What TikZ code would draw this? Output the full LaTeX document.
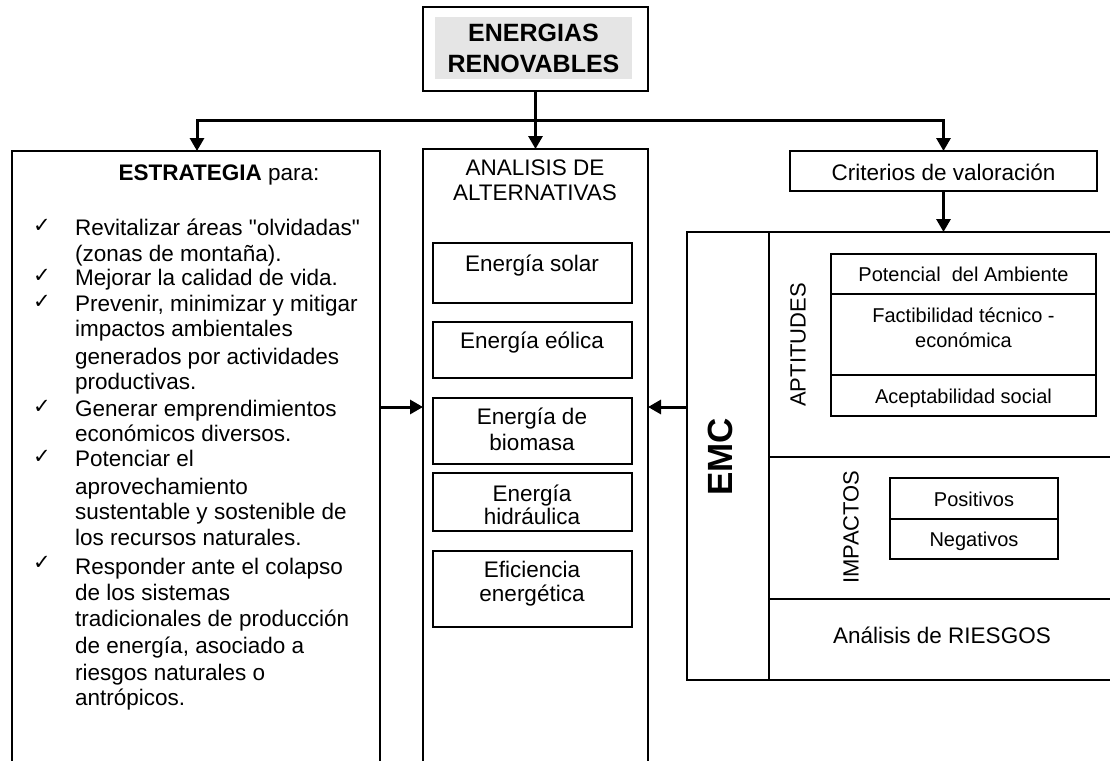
\documentclass[tikz,border=0pt]{standalone}
\usepackage{fontspec}
\setmainfont{Liberation Sans}[Ligatures=TeXOff]
\newfontfamily\dejavu{DejaVu Sans}
\usetikzlibrary{arrows.meta}
\begin{document}
\begin{tikzpicture}[x=1pt,y=-1pt,
  box/.style={draw, line width=1.3pt, inner sep=0pt, outer sep=0pt},
  conn/.style={line width=3pt, -{Triangle[length=13pt,width=14pt]}},
  txt/.style={inner sep=0pt, anchor=mid, yshift=-6pt, font=\fontsize{22.5}{26}\selectfont},
  sm/.style={inner sep=0pt, anchor=mid, yshift=-5pt, font=\fontsize{20}{25}\selectfont},
  itemline/.style={inner sep=0pt, anchor=mid west, yshift=-6pt, font=\fontsize{22.5}{26}\selectfont},
  chk/.style={inner sep=0pt, anchor=mid, yshift=-5pt, font=\dejavu\fontsize{21}{24}\selectfont},
  vlabel/.style={inner sep=0pt, anchor=mid, rotate=90, font=\fontsize{22}{26}\selectfont},
]
\useasboundingbox (0,0) rectangle (1110,760);
\clip (0,0) rectangle (1110,760);

% top box
\node[box, minimum width=225, minimum height=84] (top) at (535.5,49) {};
\node[fill=black!10, inner sep=0pt, minimum width=197, minimum height=62] (topbg) at (533.5,48) {};
\node[inner sep=0pt, align=center, font=\bfseries\fontsize{25}{31}\selectfont] (toptxt) at (533.5,48) {ENERGIAS\\RENOVABLES};

% main columns
\node[box, minimum width=368, minimum height=658] (estr) at (196,480) {};
\node[box, minimum width=225, minimum height=660] (alt) at (535.5,479) {};
\node[box, minimum width=307, minimum height=40] (crit) at (943.5,171) {};
\node[box, minimum width=443, minimum height=448] (emc) at (908.5,456) {};

% connectors
\coordinate (jt) at (535.5,120);
\coordinate (jl) at (197,120);
\coordinate (ay) at (0,407);
\draw[line width=3pt] (top.south) -- (jt);
\draw[conn] (jt) -| (jl |- estr.north);
\draw[conn] (jt) -| (crit.north);
\draw[conn] (jt) -- (alt.north);
\draw[conn] (crit.south) -- (crit.south |- emc.north);
\draw[conn] (estr.east |- ay) -- (alt.west |- ay);
\draw[conn] (emc.west |- ay) -- (alt.east |- ay);

% left column text
\node[txt] (esttl) at (219,172) {\textbf{ESTRATEGIA} para:};
\node[itemline] (l1) at (75,227) {Revitalizar áreas "olvidadas"};
\node[itemline] (l2) at (75,253) {(zonas de montaña).};
\node[itemline] (l3) at (75,277) {Mejorar la calidad de vida.};
\node[itemline] (l4) at (75,303) {Prevenir, minimizar y mitigar};
\node[itemline] (l5) at (75,328) {impactos ambientales};
\node[itemline] (l6) at (75,356) {generados por actividades};
\node[itemline] (l7) at (75,381) {productivas.};
\node[itemline] (l8) at (75,408) {Generar emprendimientos};
\node[itemline] (l9) at (75,433) {económicos diversos.};
\node[itemline] (l10) at (75,458) {Potenciar el};
\node[itemline] (l11) at (75,486) {aprovechamiento};
\node[itemline] (l12) at (75,511) {sustentable y sostenible de};
\node[itemline] (l13) at (75,537) {los recursos naturales.};
\node[itemline] (l14) at (75,566) {Responder ante el colapso};
\node[itemline] (l15) at (75,592) {de los sistemas};
\node[itemline] (l16) at (75,618) {tradicionales de producción};
\node[itemline] (l17) at (75,645) {de energía, asociado a};
\node[itemline] (l18) at (75,672) {riesgos naturales o};
\node[itemline] (l19) at (75,697) {antrópicos.};
\node[chk] (c1) at (42,225) {✓};
\node[chk] (c3) at (42,275) {✓};
\node[chk] (c4) at (42,301) {✓};
\node[chk] (c8) at (42,406) {✓};
\node[chk] (c10) at (42,456) {✓};
\node[chk] (c14) at (42,562) {✓};

% middle column
\node[txt] (alt1) at (535,167) {ANALISIS DE};
\node[txt] (alt2) at (535,192) {ALTERNATIVAS};
\node[box, minimum width=199, minimum height=60] (solar) at (532.5,273) {};
\node[box, minimum width=199, minimum height=56] (eolica) at (532.5,350) {};
\node[box, minimum width=199, minimum height=66] (bio) at (532.5,431) {};
\node[box, minimum width=199, minimum height=58] (hidra) at (532.5,502) {};
\node[box, minimum width=199, minimum height=76] (efic) at (532.5,589) {};
\node[txt] (solart) at (532,263) {Energía solar};
\node[txt] (eolicat) at (532,340) {Energía eólica};
\node[txt] (bio1) at (532,416) {Energía de};
\node[txt] (bio2) at (532,442) {biomasa};
\node[txt] (hid1) at (532,493) {Energía};
\node[txt] (hid2) at (532,516) {hidráulica};
\node[txt] (ef1) at (532,569) {Eficiencia};
\node[txt] (ef2) at (532,593) {energética};

% right column
\node[txt] (critt) at (943.5,172) {Criterios de valoración};
\draw[line width=1.3pt] (769,232) -- (769,680);
\draw[line width=1.3pt] (769,457) -- (1130,457);
\draw[line width=1.3pt] (769,599) -- (1130,599);
\node[vlabel, font=\bfseries\fontsize{35}{40}\selectfont] (emct) at (730,457) {EMC};
\node[vlabel] (aptt) at (803,345) {APTITUDES};
\node[vlabel] (impt) at (856,527) {IMPACTOS};

\node[box, minimum width=265, minimum height=40] (pot) at (963.5,274) {};
\node[box, minimum width=265, minimum height=81] (fact) at (963.5,334.5) {};
\node[box, minimum width=265, minimum height=41] (acep) at (963.5,395.5) {};
\node[sm] (pott) at (963.5,274) {Potencial\ \ del Ambiente};
\node[sm] (fact1) at (963.5,315) {Factibilidad técnico -};
\node[sm] (fact2) at (963.5,340) {económica};
\node[sm] (acept) at (963.5,396) {Aceptabilidad social};

\node[box, minimum width=168, minimum height=41] (pos) at (974,498.5) {};
\node[box, minimum width=168, minimum height=40] (neg) at (974,539) {};
\node[sm] (post) at (974,499) {Positivos};
\node[sm] (negt) at (974,539) {Negativos};

\node[txt] (riesgo) at (942,635) {Análisis de RIESGOS};
\end{tikzpicture}
\end{document}
